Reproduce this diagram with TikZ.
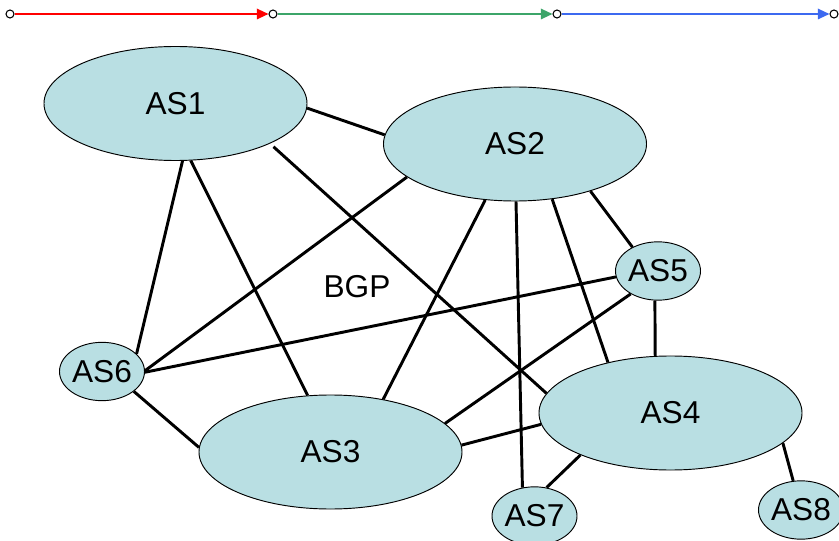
\documentclass[tikz,border=0pt]{standalone}
\usepackage{fontspec}
\setmainfont{Liberation Sans}
\usetikzlibrary{positioning,arrows.meta,shapes.geometric}
\definecolor{asfill}{RGB}{185,223,227}
\definecolor{linkred}{RGB}{255,0,0}
\definecolor{linkgreen}{RGB}{60,165,105}
\definecolor{linkblue}{RGB}{60,105,240}

\begin{document}
\begin{tikzpicture}[
  x=0.03cm, y=-0.03cm,
  font=\fontsize{27}{32}\selectfont,
  as/.style={ellipse, draw, fill=asfill, line width=0.8pt, inner sep=0pt},
  bigas/.style={as, minimum width=7.89cm, minimum height=3.42cm},
  smallas/.style={as, minimum width=2.55cm, minimum height=1.75cm},
  link/.style={line width=2.5pt},
  dot/.style={circle, draw, fill=white, line width=0.9pt, minimum size=0.24cm, inner sep=0pt},
  arrow/.style={-{Triangle[length=10pt, width=9pt]}, line width=1.4pt}
]
\useasboundingbox (0,0) rectangle (839,541);

% path along the top
\node[dot] (p0) at (10,14) {};
\node[dot] (p1) at (273,14) {};
\node[dot] (p2) at (557,14) {};
\node[dot] (p3) at (834,14) {};
\draw[arrow, linkred] (p0) -- (p1);
\draw[arrow, linkgreen] (p1) -- (p2);
\draw[arrow, linkblue] (p2) -- (p3);

% autonomous systems
\node[bigas] (as1) at (175.5,103.5) {AS1};
\node[bigas] (as2) at (515,144) {AS2};
\node[bigas] (as3) at (330.5,452) {AS3};
\node[bigas] (as4) at (670.5,413) {AS4};
\node[smallas] (as5) at (658,271) {AS5};
\node[smallas] (as6) at (102,371.5) {AS6};
\node[smallas] (as7) at (534.5,516) {AS7};
\node[smallas] (as8) at (801,510) {AS8};
\node (bgp) at (357,287) {BGP};

% peering links
\draw[link] (as1.-2) -- (as2.176);
\draw[link] (as1.-83) -- (as6.27);
\draw[link] (as1.-75) -- (as3.112);
\draw[link, shorten <=4pt] (as1.-23) -- (as4.171);
\draw[link] (as2.-163) -- (as6.1);
\draw[link] (as2.-118) -- (as3.45);
\draw[link] (as2.-89) -- (as7.113);
\draw[link] (as2.-56) -- (as4.141);
\draw[link] (as2.-32) -- (as5.137);
\draw[link] (as5.188) -- (as6.-1);
\draw[link] (as5.-140) -- (as3.14);
\draw[link] (as5.-96) -- (as4.105);
\draw[link] (as6.-32) -- (as3.178);
\draw[link] (as3.3) -- (as4.185);
\draw[link] (as4.205) -- (as7.67);
\draw[link] (as4.-15) -- (as8.105);
\end{tikzpicture}
\end{document}
